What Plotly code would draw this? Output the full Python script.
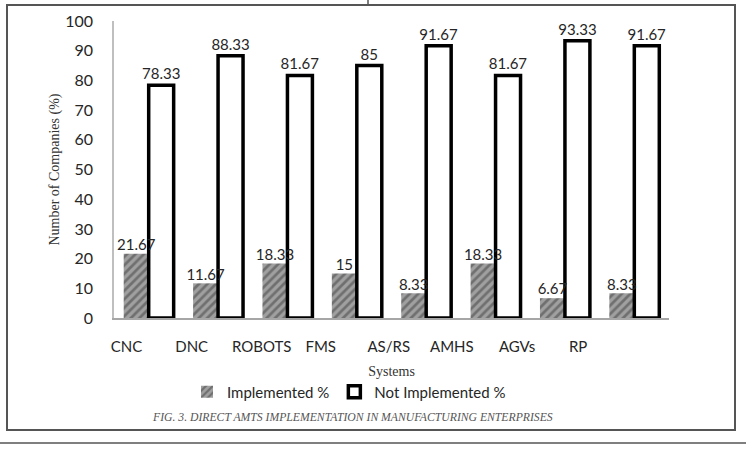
import plotly.graph_objects as go

# ---- data ----
systems = ["CNC", "DNC", "ROBOTS", "FMS", "AS/RS", "AMHS", "AGVs", "RP"]
implemented = [21.67, 11.67, 18.33, 15, 8.33, 18.33, 6.67, 8.33]
not_implemented = [78.33, 88.33, 81.67, 85, 91.67, 81.67, 93.33, 91.67]
y_ticks = [0, 10, 20, 30, 40, 50, 60, 70, 80, 90, 100]

# ---- layout helpers (pixel -> paper) ----
W, H = 746, 451
L, R, T, B = 114, 669, 21, 318
def px(x):
    return (x - L) / (R - L)
def py(y):
    return (B - y) / (B - T)

# tick label offsets (labels in the source are shifted left of the bars)
label_offsets = [-0.32, -0.38, -0.37, -0.52, -0.54, -0.63, -0.69, -0.81]
xpos = list(range(len(systems)))
tickvals = [i + o for i, o in zip(xpos, label_offsets)]

BARGAP = 0.28
bar_w = (1 - BARGAP) / 2
impl_x = [i - bar_w / 2 for i in xpos]

TXT = "#262626"
SANS = "Lato"
SERIF = "Liberation Serif"

fig = go.Figure()
fig.add_trace(go.Bar(
    x=xpos, y=implemented, name="Implemented %",
    marker=dict(color="#8f8f8f", line=dict(width=0),
                pattern=dict(shape="/", fgcolor="#3d3d3d", bgcolor="#a0a0a0",
                             size=6, solidity=0.45, fillmode="overlay")),
    textposition="none",
))
fig.add_trace(go.Bar(
    x=xpos, y=not_implemented, name="Not Implemented %",
    marker=dict(color="white", line=dict(color="black", width=3.5)),
    texttemplate="%{y}", textposition="outside", constraintext="none",
    textfont=dict(family=SANS, size=15, color=TXT), cliponaxis=False,
))
# labels for implemented bars drawn on top (they overlap the neighbouring bar)
fig.add_trace(go.Scatter(
    x=impl_x, y=implemented, mode="text", text=[f"{v:g}" for v in implemented],
    textposition="top center", textfont=dict(family=SANS, size=15, color=TXT),
    showlegend=False, cliponaxis=False, hoverinfo="skip",
))

fig.update_layout(
    width=W, height=H,
    margin=dict(l=L, r=W - R, t=T, b=H - B, autoexpand=False),
    paper_bgcolor="white", plot_bgcolor="white",
    barmode="group", bargap=BARGAP, bargroupgap=0,
    showlegend=True,
    legend=dict(orientation="h", x=px(187), y=py(392), xanchor="left", yanchor="middle",
                font=dict(family=SANS, size=15, color=TXT), itemwidth=30,
                bgcolor="rgba(0,0,0,0)", traceorder="normal"),
    xaxis=dict(range=[-0.5, 7.5], tickmode="array", tickvals=tickvals, ticktext=systems,
               showline=True, linecolor="#a6a6a6", linewidth=1.5, showgrid=False,
               zeroline=False, ticks="", ticklabelstandoff=14,
               tickfont=dict(family=SANS, size=15, color=TXT),
               title=dict(text="Systems", font=dict(family=SERIF, size=14, color="#333"),
                          standoff=12)),
    yaxis=dict(range=[0, 100], tickmode="array", tickvals=y_ticks,
               showline=True, linecolor="#bfbfbf", linewidth=1.5, showgrid=False,
               zeroline=False, ticks="", ticklabelstandoff=16,
               tickfont=dict(family=SANS, size=16, color=TXT),
               title=dict(text="Number of Companies (%)",
                          font=dict(family=SERIF, size=14, color="#333"), standoff=2)),
    shapes=[
        dict(type="rect", xref="paper", yref="paper", x0=px(7), x1=px(735), y0=py(430), y1=py(5),
             line=dict(color="#555", width=2), fillcolor="rgba(0,0,0,0)", layer="below"),
        dict(type="line", xref="paper", yref="paper", x0=px(368), x1=px(368), y0=py(5), y1=py(0),
             line=dict(color="#555", width=1.5)),
        dict(type="line", xref="paper", yref="paper", x0=px(0), x1=px(746), y0=py(443), y1=py(443),
             line=dict(color="#555", width=1.5)),
    ],
    annotations=[
        dict(text="<i>FIG. 3. DIRECT AMTS IMPLEMENTATION IN MANUFACTURING ENTERPRISES</i>",
             xref="paper", yref="paper", x=px(352), y=py(417), showarrow=False,
             xanchor="center", yanchor="middle",
             font=dict(family=SERIF, size=11.7, color="#555")),
    ],
)

fig.write_html("out.html")
